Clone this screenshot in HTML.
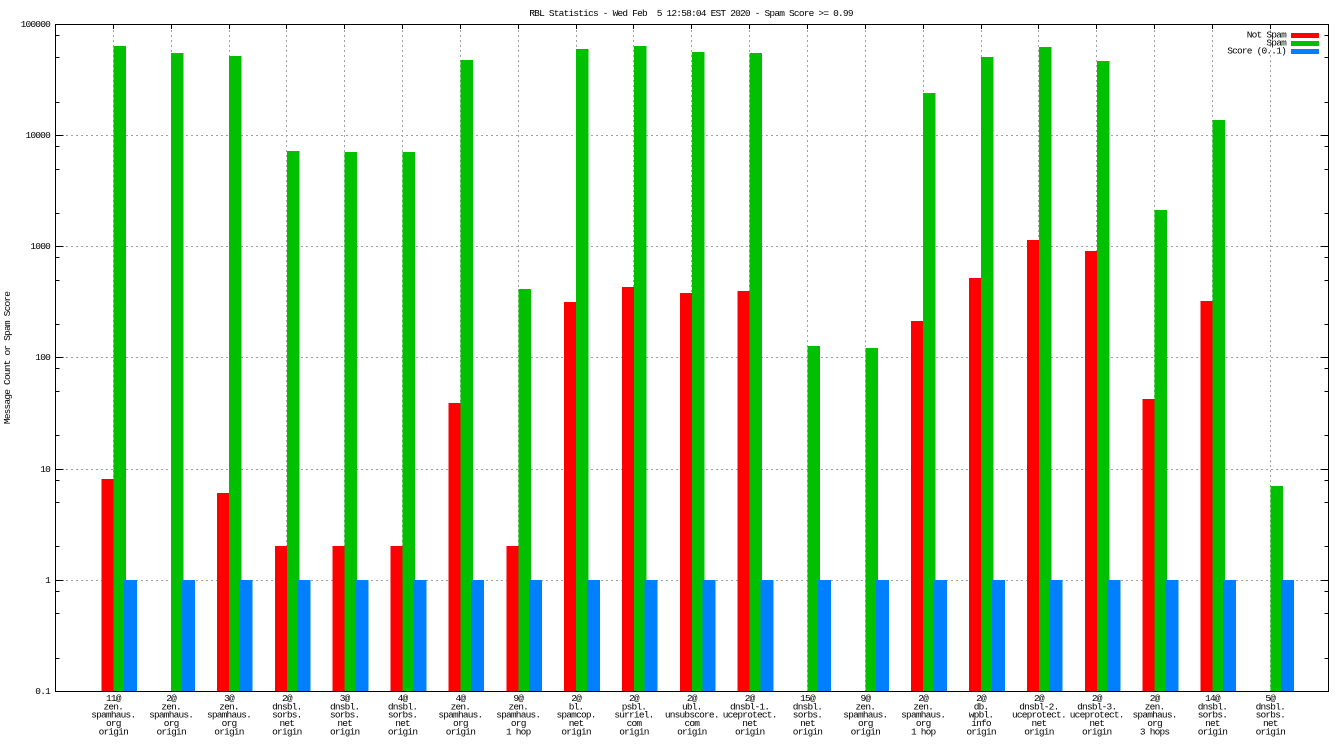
<!DOCTYPE html>
<html><head><meta charset="utf-8"><style>
html,body{margin:0;padding:0;background:#fff;}
svg{display:block;}
text{font-family:"Liberation Mono",monospace;font-size:9.5px;letter-spacing:-0.8px;fill:#000;white-space:pre;}
</style></head><body>
<svg width="1344" height="756" viewBox="0 0 1344 756" xmlns="http://www.w3.org/2000/svg">
<rect x="0" y="0" width="1344" height="756" fill="#fff"/>
<!-- grid -->
<g stroke="#a0a0a0" stroke-width="1" stroke-dasharray="2,3" fill="none">
<path d="M56 135.5H1328M56 246.5H1328M56 357.5H1328M56 469.5H1328M56 580.5H1328"/>
<path d="M113.5 25V691M171.5 25V691M229.5 25V691M286.5 25V691M344.5 25V691M402.5 25V691M460.5 25V691M518.5 25V691M576.5 25V691M633.5 25V691M691.5 25V691M749.5 25V691M807.5 25V691M865.5 25V691M923.5 25V691M981.5 25V691M1038.5 25V691M1096.5 25V691M1154.5 25V691M1212.5 25V691M1270.5 25V691"/>
</g>
<!-- red bars -->
<g fill="#ff0000" shape-rendering="crispEdges">
<rect x="101.3" y="479" width="12" height="212"/>
<rect x="217" y="493" width="12" height="198"/>
<rect x="274.85" y="546" width="12" height="145"/>
<rect x="332.7" y="546" width="12" height="145"/>
<rect x="390.55" y="546" width="12" height="145"/>
<rect x="448.4" y="403" width="12" height="288"/>
<rect x="506.25" y="546" width="12" height="145"/>
<rect x="564.1" y="302" width="12" height="389"/>
<rect x="621.95" y="287" width="12" height="404"/>
<rect x="679.8" y="293" width="12" height="398"/>
<rect x="737.65" y="291" width="12" height="400"/>
<rect x="911.2" y="321" width="12" height="370"/>
<rect x="969.05" y="278" width="12" height="413"/>
<rect x="1026.9" y="240" width="12" height="451"/>
<rect x="1084.75" y="251" width="12" height="440"/>
<rect x="1142.6" y="399" width="12" height="292"/>
<rect x="1200.45" y="301" width="12" height="390"/>
</g>
<!-- green bars -->
<g fill="#00c000" shape-rendering="crispEdges">
<rect x="113.3" y="46" width="12.5" height="645"/>
<rect x="171.15" y="53" width="12.5" height="638"/>
<rect x="229" y="56" width="12.5" height="635"/>
<rect x="286.85" y="151" width="12.5" height="540"/>
<rect x="344.7" y="152" width="12.5" height="539"/>
<rect x="402.55" y="152" width="12.5" height="539"/>
<rect x="460.4" y="60" width="12.5" height="631"/>
<rect x="518.25" y="289" width="12.5" height="402"/>
<rect x="576.1" y="49" width="12.5" height="642"/>
<rect x="633.95" y="46" width="12.5" height="645"/>
<rect x="691.8" y="52" width="12.5" height="639"/>
<rect x="749.65" y="53" width="12.5" height="638"/>
<rect x="807.5" y="346" width="12.5" height="345"/>
<rect x="865.35" y="348" width="12.5" height="343"/>
<rect x="923.2" y="93" width="12.5" height="598"/>
<rect x="981.05" y="57" width="12.5" height="634"/>
<rect x="1038.9" y="47" width="12.5" height="644"/>
<rect x="1096.75" y="61" width="12.5" height="630"/>
<rect x="1154.6" y="210" width="12.5" height="481"/>
<rect x="1212.45" y="120" width="12.5" height="571"/>
<rect x="1270.3" y="486" width="12.5" height="205"/>
</g>
<!-- blue bars -->
<g fill="#0080ff" shape-rendering="crispEdges">
<rect x="124" y="580" width="13" height="111"/>
<rect x="181.85" y="580" width="13" height="111"/>
<rect x="239.7" y="580" width="13" height="111"/>
<rect x="297.55" y="580" width="13" height="111"/>
<rect x="355.4" y="580" width="13" height="111"/>
<rect x="413.25" y="580" width="13" height="111"/>
<rect x="471.1" y="580" width="13" height="111"/>
<rect x="528.95" y="580" width="13" height="111"/>
<rect x="586.8" y="580" width="13" height="111"/>
<rect x="644.65" y="580" width="13" height="111"/>
<rect x="702.5" y="580" width="13" height="111"/>
<rect x="760.35" y="580" width="13" height="111"/>
<rect x="818.2" y="580" width="13" height="111"/>
<rect x="876.05" y="580" width="13" height="111"/>
<rect x="933.9" y="580" width="13" height="111"/>
<rect x="991.75" y="580" width="13" height="111"/>
<rect x="1049.6" y="580" width="13" height="111"/>
<rect x="1107.45" y="580" width="13" height="111"/>
<rect x="1165.3" y="580" width="13" height="111"/>
<rect x="1223.15" y="580" width="13" height="111"/>
<rect x="1281" y="580" width="13" height="111"/>
</g>
<!-- axes border and ticks -->
<g stroke="#000" stroke-width="1" fill="none">
<rect x="55.5" y="24.5" width="1273" height="667"/>
<path d="M55.5 135.5H63.5M55.5 246.5H63.5M55.5 357.5H63.5M55.5 469.5H63.5M55.5 580.5H63.5"/>
<path d="M1320.5 135.5H1328.5M1320.5 246.5H1328.5M1320.5 357.5H1328.5M1320.5 469.5H1328.5M1320.5 580.5H1328.5"/>
<path d="M55.5 35.5H59.5M55.5 57.5H59.5M55.5 102.5H59.5M55.5 146.5H59.5M55.5 169.5H59.5M55.5 213.5H59.5M55.5 257.5H59.5M55.5 280.5H59.5M55.5 324.5H59.5M55.5 368.5H59.5M55.5 391.5H59.5M55.5 435.5H59.5M55.5 480.5H59.5M55.5 502.5H59.5M55.5 546.5H59.5M55.5 591.5H59.5M55.5 613.5H59.5M55.5 658.5H59.5"/>
<path d="M1324.5 35.5H1328.5M1324.5 57.5H1328.5M1324.5 102.5H1328.5M1324.5 146.5H1328.5M1324.5 169.5H1328.5M1324.5 213.5H1328.5M1324.5 257.5H1328.5M1324.5 280.5H1328.5M1324.5 324.5H1328.5M1324.5 368.5H1328.5M1324.5 391.5H1328.5M1324.5 435.5H1328.5M1324.5 480.5H1328.5M1324.5 502.5H1328.5M1324.5 546.5H1328.5M1324.5 591.5H1328.5M1324.5 613.5H1328.5M1324.5 658.5H1328.5"/>
<path d="M113.5 24V29M171.5 24V29M229.5 24V29M286.5 24V29M344.5 24V29M402.5 24V29M460.5 24V29M518.5 24V29M576.5 24V29M633.5 24V29M691.5 24V29M749.5 24V29M807.5 24V29M865.5 24V29M923.5 24V29M981.5 24V29M1038.5 24V29M1096.5 24V29M1154.5 24V29M1212.5 24V29M1270.5 24V29"/>
</g>
<!-- title -->
<text x="691" y="16" text-anchor="middle">RBL Statistics - Wed Feb  5 12:58:04 EST 2020 - Spam Score &gt;= 0.99</text>
<!-- y tick labels -->
<g text-anchor="end">
<text x="50" y="27">100000</text>
<text x="50" y="138">10000</text>
<text x="50" y="249">1000</text>
<text x="50" y="360">100</text>
<text x="50" y="472">10</text>
<text x="50" y="583">1</text>
<text x="50" y="694">0.1</text>
</g>
<text transform="translate(10,358) rotate(-90)" text-anchor="middle">Message Count or Spam Score</text>
<!-- legend -->
<g text-anchor="end">
<text x="1286" y="37.5">Not Spam</text>
<text x="1286" y="45.5">Spam</text>
<text x="1286" y="53.5">Score (0..1)</text>
</g>
<rect x="1291" y="33" width="28" height="5" fill="#ff0000"/>
<rect x="1291" y="41" width="28" height="5" fill="#00c000"/>
<rect x="1291" y="49" width="28" height="5" fill="#0080ff"/>
<!-- x labels -->
<g text-anchor="middle">
<text x="113.3" y="701">11@</text><text x="113.3" y="709.3">zen.</text><text x="113.3" y="717.7">spamhaus.</text><text x="113.3" y="726">org</text><text x="113.3" y="734.3">origin</text>
<text x="171.15" y="701">2@</text><text x="171.15" y="709.3">zen.</text><text x="171.15" y="717.7">spamhaus.</text><text x="171.15" y="726">org</text><text x="171.15" y="734.3">origin</text>
<text x="229" y="701">3@</text><text x="229" y="709.3">zen.</text><text x="229" y="717.7">spamhaus.</text><text x="229" y="726">org</text><text x="229" y="734.3">origin</text>
<text x="286.85" y="701">2@</text><text x="286.85" y="709.3">dnsbl.</text><text x="286.85" y="717.7">sorbs.</text><text x="286.85" y="726">net</text><text x="286.85" y="734.3">origin</text>
<text x="344.7" y="701">3@</text><text x="344.7" y="709.3">dnsbl.</text><text x="344.7" y="717.7">sorbs.</text><text x="344.7" y="726">net</text><text x="344.7" y="734.3">origin</text>
<text x="402.55" y="701">4@</text><text x="402.55" y="709.3">dnsbl.</text><text x="402.55" y="717.7">sorbs.</text><text x="402.55" y="726">net</text><text x="402.55" y="734.3">origin</text>
<text x="460.4" y="701">4@</text><text x="460.4" y="709.3">zen.</text><text x="460.4" y="717.7">spamhaus.</text><text x="460.4" y="726">org</text><text x="460.4" y="734.3">origin</text>
<text x="518.25" y="701">9@</text><text x="518.25" y="709.3">zen.</text><text x="518.25" y="717.7">spamhaus.</text><text x="518.25" y="726">org</text><text x="518.25" y="734.3">1 hop</text>
<text x="576.1" y="701">2@</text><text x="576.1" y="709.3">bl.</text><text x="576.1" y="717.7">spamcop.</text><text x="576.1" y="726">net</text><text x="576.1" y="734.3">origin</text>
<text x="633.95" y="701">2@</text><text x="633.95" y="709.3">psbl.</text><text x="633.95" y="717.7">surriel.</text><text x="633.95" y="726">com</text><text x="633.95" y="734.3">origin</text>
<text x="691.8" y="701">2@</text><text x="691.8" y="709.3">ubl.</text><text x="691.8" y="717.7">unsubscore.</text><text x="691.8" y="726">com</text><text x="691.8" y="734.3">origin</text>
<text x="749.65" y="701">2@</text><text x="749.65" y="709.3">dnsbl-1.</text><text x="749.65" y="717.7">uceprotect.</text><text x="749.65" y="726">net</text><text x="749.65" y="734.3">origin</text>
<text x="807.5" y="701">15@</text><text x="807.5" y="709.3">dnsbl.</text><text x="807.5" y="717.7">sorbs.</text><text x="807.5" y="726">net</text><text x="807.5" y="734.3">origin</text>
<text x="865.35" y="701">9@</text><text x="865.35" y="709.3">zen.</text><text x="865.35" y="717.7">spamhaus.</text><text x="865.35" y="726">org</text><text x="865.35" y="734.3">origin</text>
<text x="923.2" y="701">2@</text><text x="923.2" y="709.3">zen.</text><text x="923.2" y="717.7">spamhaus.</text><text x="923.2" y="726">org</text><text x="923.2" y="734.3">1 hop</text>
<text x="981.05" y="701">2@</text><text x="981.05" y="709.3">db.</text><text x="981.05" y="717.7">wpbl.</text><text x="981.05" y="726">info</text><text x="981.05" y="734.3">origin</text>
<text x="1038.9" y="701">2@</text><text x="1038.9" y="709.3">dnsbl-2.</text><text x="1038.9" y="717.7">uceprotect.</text><text x="1038.9" y="726">net</text><text x="1038.9" y="734.3">origin</text>
<text x="1096.75" y="701">2@</text><text x="1096.75" y="709.3">dnsbl-3.</text><text x="1096.75" y="717.7">uceprotect.</text><text x="1096.75" y="726">net</text><text x="1096.75" y="734.3">origin</text>
<text x="1154.6" y="701">2@</text><text x="1154.6" y="709.3">zen.</text><text x="1154.6" y="717.7">spamhaus.</text><text x="1154.6" y="726">org</text><text x="1154.6" y="734.3">3 hops</text>
<text x="1212.45" y="701">14@</text><text x="1212.45" y="709.3">dnsbl.</text><text x="1212.45" y="717.7">sorbs.</text><text x="1212.45" y="726">net</text><text x="1212.45" y="734.3">origin</text>
<text x="1270.3" y="701">5@</text><text x="1270.3" y="709.3">dnsbl.</text><text x="1270.3" y="717.7">sorbs.</text><text x="1270.3" y="726">net</text><text x="1270.3" y="734.3">origin</text>
</g>
</svg>
</body></html>
